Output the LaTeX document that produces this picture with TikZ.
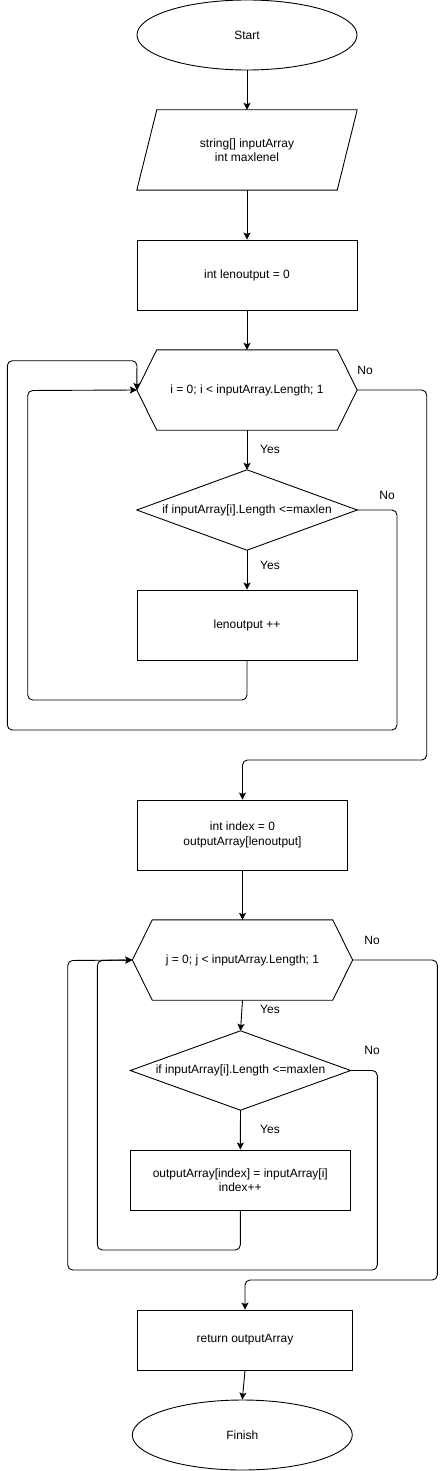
\documentclass[tikz,border=0pt]{standalone}
\usepackage{fontspec}
\setmainfont{Liberation Sans}
\usetikzlibrary{shapes.geometric,arrows.meta}
\tikzset{
  base/.style={inner sep=0pt, align=center, font=\fontsize{12}{14.5}\selectfont},
  term/.style={base, draw, ellipse, minimum width=220pt, minimum height=70pt, line width=0.9pt},
  proc/.style={base, draw, rectangle, line width=0.9pt},
  ghost/.style={base, rectangle},
  shapeline/.style={line width=0.9pt},
  conn/.style={line width=0.9pt, -{Stealth[length=7pt,width=7pt,inset=1.5pt]}, rounded corners=5pt},
  lbl/.style={base, inner sep=0pt}
}
\begin{document}
\begin{tikzpicture}[x=1pt,y=-1pt]
\useasboundingbox (0,0) rectangle (446,1471);
% nodes
\node[term] (start) at (247,35) {Start};
\node[ghost, minimum width=220pt, minimum height=80pt] (in) at (247,150) {string[] inputArray\\int maxlenel};
\draw[shapeline] ([xshift=20pt]in.north west) -- (in.north east) -- ([xshift=-20pt]in.south east) -- (in.south west) -- cycle;
\node[proc, minimum width=220pt, minimum height=70pt] (init) at (247,275) {int lenoutput = 0};
\node[ghost, minimum width=220pt, minimum height=80pt] (hex1) at (247,390) {i = 0; i < inputArray.Length; 1};
\draw[shapeline] (hex1.west) -- ([xshift=20pt]hex1.north west) -- ([xshift=-20pt]hex1.north east) -- (hex1.east) -- ([xshift=-20pt]hex1.south east) -- ([xshift=20pt]hex1.south west) -- cycle;
\node[ghost, minimum width=220pt, minimum height=80pt] (dec1) at (247,510) {if inputArray[i].Length <=maxlen};
\draw[shapeline] (dec1.north) -- (dec1.east) -- (dec1.south) -- (dec1.west) -- cycle;
\node[proc, minimum width=220pt, minimum height=70pt] (inc) at (247,625) {lenoutput ++};
\node[proc, minimum width=210pt, minimum height=70pt] (idx) at (242.5,835) {int index = 0\\outputArray[lenoutput]};
\node[ghost, minimum width=220pt, minimum height=80pt] (hex2) at (242.5,960) {j = 0; j < inputArray.Length; 1};
\draw[shapeline] (hex2.west) -- ([xshift=20pt]hex2.north west) -- ([xshift=-20pt]hex2.north east) -- (hex2.east) -- ([xshift=-20pt]hex2.south east) -- ([xshift=20pt]hex2.south west) -- cycle;
\node[ghost, minimum width=220pt, minimum height=79pt] (dec2) at (240.5,1070.5) {if inputArray[i].Length <=maxlen};
\draw[shapeline] (dec2.north) -- (dec2.east) -- (dec2.south) -- (dec2.west) -- cycle;
\node[proc, minimum width=220pt, minimum height=60pt] (asg) at (240.3,1180) {outputArray[index] = inputArray[i]\\index++};
\node[proc, minimum width=215pt, minimum height=60pt] (ret) at (245,1340) {return outputArray};
\node[term] (fin) at (242.3,1435) {Finish};
% labels
\node[lbl] (y1) at (270,449) {Yes};
\node[lbl] (y2) at (270,565) {Yes};
\node[lbl] (n1) at (365,370) {No};
\node[lbl] (n2) at (387,495) {No};
\node[lbl] (y3) at (270,1009) {Yes};
\node[lbl] (y4) at (270,1129) {Yes};
\node[lbl] (n3) at (372,940) {No};
\node[lbl] (n4) at (372,1050) {No};
% connectors
\draw[conn] (start.south) -- (in.north);
\draw[conn] (in.south) -- (init.north);
\draw[conn] (init.south) -- (hex1.north);
\draw[conn] (hex1.south) -- (dec1.north);
\draw[conn] (dec1.south) -- (inc.north);
\draw[conn] (inc.south) -- (247,700) -- (27.7,700) -- (27.7,390.5) -- (hex1.west);
\draw[conn] (dec1.east) -- (397,510) -- (397,730) -- (7.3,730) -- (7.3,360.7) -- (137,360.7) -- (hex1.west);
\draw[conn] (hex1.east) -- (426.7,390) -- (426.7,760) -- (242.5,760) -- (idx.north);
\draw[conn] (idx.south) -- (hex2.north);
\draw[conn] (hex2.south) -- (dec2.north);
\draw[conn] (dec2.south) -- (asg.north);
\draw[conn] (asg.south) -- (240.3,1250) -- (97.3,1250) -- (97.3,960.5) -- (hex2.west);
\draw[conn] (dec2.east) -- (377.3,1070.5) -- (377.3,1270) -- (67.7,1270) -- (67.7,960.5) -- (hex2.west);
\draw[conn] (hex2.east) -- (437.3,960) -- (437.3,1280) -- (245,1280) -- (ret.north);
\draw[conn] (ret.south) -- (fin.north);
\end{tikzpicture}
\end{document}
